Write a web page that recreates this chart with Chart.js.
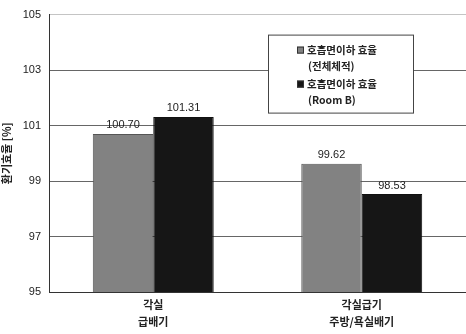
<!DOCTYPE html>
<html>
<head>
<meta charset="utf-8">
<script src="https://cdn.jsdelivr.net/npm/chart.js@4.4.0/dist/chart.umd.min.js"></script>
<style>
  html, body { margin: 0; padding: 0; background: #fff; }
  #wrap { width: 466px; height: 334px; }
</style>
</head>
<body>
<div id="wrap"><canvas id="myChart" width="466" height="334"></canvas></div>
<script>
const categories = [['각실', '급배기'], ['각실급기', '주방/욕실배기']];
const seriesNames = [['호흡면이하 효율', '(전체체적)'], ['호흡면이하 효율', '(Room B)']];
const wholeVolume = [100.70, 99.62];
const roomB = [101.31, 98.53];
const yTicks = [95, 97, 99, 101, 103, 105];

const barColors = ['#828282', '#161616'];
const font = "'Liberation Sans', Arial, 'Noto Sans CJK KR', sans-serif";
const krFont = "'Noto Sans CJK KR', 'Liberation Sans', sans-serif";

// values printed above each bar
const valueLabels = {
    id: 'valueLabels',
    afterDatasetsDraw(chart) {
        const ctx = chart.ctx;
        ctx.save();
        ctx.fillStyle = '#222';
        ctx.font = '11px ' + font;
        ctx.textAlign = 'center';
        ctx.textBaseline = 'bottom';
        chart.data.datasets.forEach((ds, i) => {
            chart.getDatasetMeta(i).data.forEach((bar, j) => {
                ctx.fillText(ds.data[j].toFixed(2), bar.x, bar.y - 3);
            });
        });
        ctx.restore();
    }
};

// boxed legend inside the plot
const boxLegend = {
    id: 'boxLegend',
    afterDraw(chart) {
        const ctx = chart.ctx;
        const a = chart.chartArea;
        const x = a.left + 219, y = a.top + 20, w = 145, h = 78;
        ctx.save();
        ctx.fillStyle = '#fff';
        ctx.fillRect(x, y, w, h);
        ctx.strokeStyle = '#444';
        ctx.lineWidth = 1;
        ctx.strokeRect(x + 0.5, y + 0.5, w, h);
        ctx.font = 'bold 10.5px ' + krFont;
        ctx.textBaseline = 'middle';
        seriesNames.forEach((lines, i) => {
            const ly = y + 15 + i * 34;
            ctx.fillStyle = barColors[i];
            ctx.fillRect(x + 29, ly - 3, 7, 7);
            ctx.strokeStyle = '#333';
            ctx.strokeRect(x + 29.5, ly - 2.5, 6, 6);
            ctx.fillStyle = '#222';
            ctx.fillText(lines[0], x + 39, ly);
            ctx.fillText(lines[1], x + 40, ly + 16);
        });
        ctx.restore();
    }
};

const ctx = document.getElementById('myChart').getContext('2d');
const myChart = new Chart(ctx, {
    type: 'bar',
    data: {
        labels: categories,
        datasets: [
            {
                label: seriesNames[0].join(' '),
                data: wholeVolume,
                backgroundColor: barColors[0],
                borderColor: '#555',
                borderWidth: 1,
                categoryPercentage: 0.58,
                barPercentage: 1
            },
            {
                label: seriesNames[1].join(' '),
                data: roomB,
                backgroundColor: barColors[1],
                borderColor: '#111',
                borderWidth: 1,
                categoryPercentage: 0.58,
                barPercentage: 1
            }
        ]
    },
    options: {
        responsive: false,
        animation: false,
        layout: { padding: { top: 9, right: 0, left: 0, bottom: 0 } },
        plugins: {
            legend: { display: false },
            tooltip: { enabled: false }
        },
        scales: {
            x: {
                grid: { display: false },
                border: { color: '#333' },
                ticks: {
                    color: '#222',
                    font: { family: krFont, size: 11, weight: 'bold', lineHeight: 1.5 },
                    padding: -3
                },
                afterFit(scale) { scale.height = 42; }
            },
            y: {
                min: 95,
                max: 105,
                afterBuildTicks(scale) {
                    scale.ticks = yTicks.map(v => ({ value: v }));
                },
                grid: {
                    color: (c) => (c.tick && c.tick.value === 105 ? '#c4c4c4' : '#666'),
                    drawTicks: false
                },
                border: { color: '#333' },
                ticks: {
                    color: '#222',
                    font: { family: font, size: 11 },
                    padding: 8
                },
                title: {
                    display: true,
                    text: '환기효율 [%]',
                    color: '#222',
                    font: { family: krFont, size: 11, weight: 'bold' },
                    padding: { top: 0, bottom: 0 }
                },
                afterFit(scale) { scale.width = 49; }
            }
        }
    },
    plugins: [valueLabels, boxLegend]
});
</script>
</body>
</html>
